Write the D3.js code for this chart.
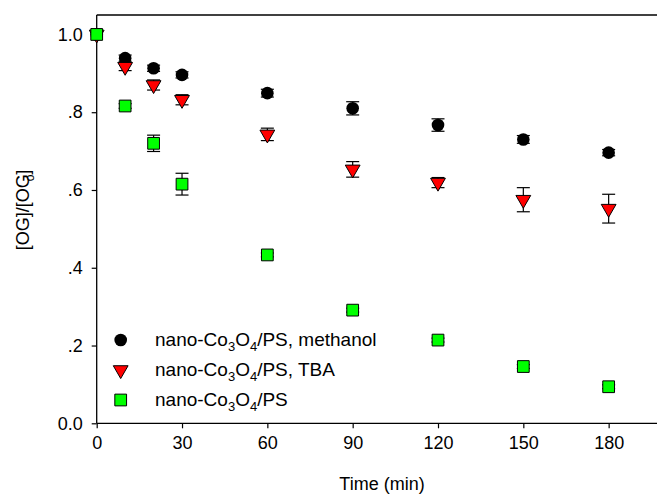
<!DOCTYPE html>
<html>
<head>
<meta charset="utf-8">
<script src="https://cdn.jsdelivr.net/npm/d3@7"></script>
<style>
  html, body { margin: 0; padding: 0; background: #fff; }
  svg { display: block; font-family: "Liberation Sans", Arial, sans-serif; }
</style>
</head>
<body>
<svg id="chart" width="657" height="497"></svg>
<script>
// Sampling times (min)
const times = [0, 10, 20, 30, 60, 90, 120, 150, 180];

// [OG]/[OG]o for each condition, with standard deviations
const methanolVals = [1.0, 0.939, 0.913, 0.896, 0.849, 0.810, 0.767, 0.730, 0.696];
const methanolErr  = [0.0, 0.008, 0.008, 0.008, 0.010, 0.017, 0.016, 0.010, 0.008];

const tbaVals = [1.0, 0.917, 0.870, 0.832, 0.743, 0.653, 0.619, 0.575, 0.552];
const tbaErr  = [0.0, 0.010, 0.013, 0.013, 0.016, 0.020, 0.013, 0.031, 0.037];

const psVals = [1.0, 0.816, 0.720, 0.615, 0.433, 0.291, 0.214, 0.146, 0.094];
const psErr  = [0.0, 0.006, 0.021, 0.028, 0.005, 0.005, 0.005, 0.005, 0.005];

// Axis ticks
const xTicks = [0, 30, 60, 90, 120, 150, 180];
const yTicks = [0, 0.2, 0.4, 0.6, 0.8, 1.0];
const yTickLabels = ["0.0", ".2", ".4", ".6", ".8", "1.0"];

const series = [
  { name: "methanol", vals: methanolVals, err: methanolErr, shape: "circle",   fill: "#000000", label: ", methanol" },
  { name: "tba",      vals: tbaVals,      err: tbaErr,      shape: "triangle", fill: "#ff0000", label: ", TBA" },
  { name: "ps",       vals: psVals,       err: psErr,       shape: "square",   fill: "#00ff00", label: "" }
];

(function () {
  const svg = d3.select("#chart");
  const mLeft = 96.7, mRight = 657, mTop = 15, mBottom = 423.3;
  const FONT = 18;

  const x = d3.scaleLinear().domain([0, 197]).range([mLeft, mRight]);
  const y = d3.scaleLinear().domain([0, 1.05]).range([mBottom, mTop]);

  // Frame: top line
  svg.append("line")
    .attr("x1", mLeft).attr("x2", mRight)
    .attr("y1", mTop).attr("y2", mTop)
    .attr("stroke", "#000").attr("stroke-width", 1.3);

  // Axes
  const xAxis = svg.append("g")
    .attr("transform", `translate(0,${mBottom})`)
    .call(d3.axisBottom(x).tickValues(xTicks).tickSize(5).tickPadding(8).tickSizeOuter(0));
  const yAxis = svg.append("g")
    .attr("transform", `translate(${mLeft},0)`)
    .call(d3.axisLeft(y).tickValues(yTicks).tickSize(5).tickPadding(9).tickSizeOuter(0)
      .tickFormat((d, i) => yTickLabels[i]));

  [xAxis, yAxis].forEach(g => {
    g.select(".domain").attr("stroke", "#000").attr("stroke-width", 1.3);
    g.selectAll(".tick line").attr("stroke", "#000").attr("stroke-width", 1.2);
    g.selectAll(".tick text")
      .attr("fill", "#000")
      .style("font-size", FONT + "px")
      .style("font-family", '"Liberation Sans", Arial, sans-serif');
  });
  xAxis.select(".domain").attr("d", `M${mLeft},0H${mRight}`);
  yAxis.select(".domain").attr("d", `M0,${y(0)}V${mTop}`);

  // Marker symbols
  function symbolPath(shape) {
    if (shape === "circle") return d3.symbol(d3.symbolCircle, 125)();
    if (shape === "square") return d3.symbol(d3.symbolSquare, 138)();
    return d3.symbol(d3.symbolTriangle, 95)();
  }
  function drawMarker(g, shape, fill, cx, cy) {
    g.append("path")
      .attr("d", symbolPath(shape))
      .attr("fill", fill)
      .attr("stroke", "#000")
      .attr("stroke-width", shape === "circle" ? 0 : 1)
      .attr("transform", shape === "triangle"
        ? `translate(${cx},${cy}) rotate(180)`
        : `translate(${cx},${cy})`);
  }

  // Error bars and points
  series.forEach(s => {
    const g = svg.append("g").attr("class", "series-" + s.name);
    times.forEach((t, i) => {
      const e = s.err[i];
      if (e > 0) {
        const cx = x(t), y1 = y(s.vals[i] + e), y2 = y(s.vals[i] - e);
        g.append("line").attr("x1", cx).attr("x2", cx).attr("y1", y1).attr("y2", y2)
          .attr("stroke", "#000").attr("stroke-width", 1.2);
        [y1, y2].forEach(yy => g.append("line")
          .attr("x1", cx - 6.5).attr("x2", cx + 6.5).attr("y1", yy).attr("y2", yy)
          .attr("stroke", "#000").attr("stroke-width", 1.2));
      }
    });
    times.forEach((t, i) => drawMarker(g, s.shape, s.fill, x(t), y(s.vals[i])));
  });

  // Legend
  const legend = svg.append("g").attr("class", "legend");
  series.forEach((s, i) => {
    const ly = 340 + i * 30;
    drawMarker(legend, s.shape, s.fill, 120.7, ly);
    const txt = legend.append("text")
      .attr("x", 155).attr("y", ly + 6)
      .style("font-size", "19px").attr("fill", "#000");
    txt.append("tspan").text("nano-Co");
    txt.append("tspan").attr("dy", 5).style("font-size", "13px").text("3");
    txt.append("tspan").attr("dy", -5).text("O");
    txt.append("tspan").attr("dy", 5).style("font-size", "13px").text("4");
    txt.append("tspan").attr("dy", -5).text("/PS" + s.label);
  });

  // Axis titles
  svg.append("text")
    .attr("x", 382).attr("y", 490)
    .attr("text-anchor", "middle")
    .style("font-size", FONT + "px").attr("fill", "#000")
    .text("Time (min)");

  const yTitle = svg.append("text")
    .attr("transform", "translate(29,210) rotate(-90)")
    .attr("text-anchor", "middle")
    .style("font-size", FONT + "px").attr("fill", "#000");
  yTitle.append("tspan").text("[OG]/[OG");
  yTitle.append("tspan").attr("dx", -7).attr("dy", 5).style("font-size", "12px").text("o");
  yTitle.append("tspan").attr("dy", -5).text("]");
})();
</script>
</body>
</html>
